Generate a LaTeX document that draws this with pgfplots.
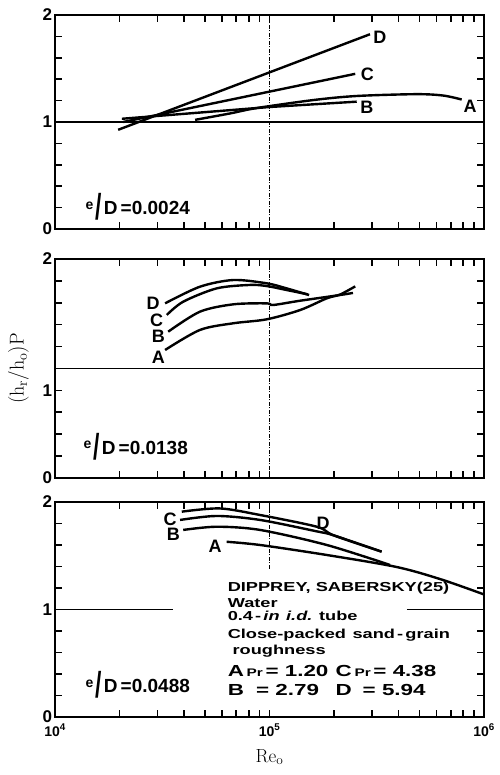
\documentclass[border=0pt]{standalone}
\usepackage{fontspec}
\usepackage{graphicx}
\usepackage{pgfplots}
\pgfplotsset{compat=1.18}
\newfontfamily\hv{Liberation Sans}
\newfontfamily\hvw[FakeStretch=1.4]{Liberation Sans}

\pgfplotsset{
 mypanel/.style={
  scale only axis, width=429pt,
  xmin=1e4, xmax=1e6, ymin=0, ymax=2,
  line width=1.4pt,
  tick style={black, line width=1.6pt},
  major tick length=0.25cm, minor tick length=0.25cm,
  xtick={1e4,1e5,1e6},
  minor xtick={2e4,3e4,4e4,5e4,6e4,7e4,8e4,9e4,2e5,3e5,4e5,5e5,6e5,7e5,8e5,9e5},
  ytick={0,0.2,0.4,0.6,0.8,1,1.2,1.4,1.6,1.8,2},
  yticklabels={0,{},{},{},{},1,{},{},{},{},2},
  yticklabel style={font=\hv\bfseries\fontsize{17}{17}\selectfont, xshift=1pt},
  xticklabel style={font=\hv\bfseries\fontsize{14}{14}\selectfont, yshift=-3pt},
  xticklabels={{},{},{}},
 },
 curve/.style={line width=2.4pt, black},
 sm/.style={line width=2.4pt, black, smooth, tension=0.5},
 vline/.style={line width=0.8pt, black, dash pattern=on 4pt off 1.5pt on 1pt off 1.5pt},
 hline/.style={line width=1.8pt, black},
}
\tikzset{
 lab/.style={font=\hv\bfseries\fontsize{18}{18}\selectfont, inner sep=0pt},
 ed/.style={font=\hv\bfseries\fontsize{19}{19}\selectfont, anchor=base west, inner sep=0pt},
 txt/.style={font=\hvw\bfseries\fontsize{13}{13}\selectfont, anchor=base west, inner sep=0pt},
 txtb/.style={font=\hvw\bfseries\fontsize{16}{16}\selectfont, anchor=base west, inner sep=0pt},
}
\newcommand{\eD}{\raisebox{0.5ex}{\fontsize{14}{14}\selectfont e}\hspace{2pt}\raisebox{-0.5ex}{\scalebox{1.2}[1.9]{/}}\hspace{2pt}D\,=0.}
\newcommand{\pr}{{\fontsize{11}{11}\selectfont Pr}}

\begin{document}
\begin{tikzpicture}
\path[use as bounding box] (0,0) rectangle (499pt,775pt);

% ---------------- panel 1: e/D = 0.0024
\begin{semilogxaxis}[mypanel, at={(55pt,546pt)}, anchor=south west, height=214pt]
\addplot[hline] coordinates {(1e4,1) (1e6,1)};
\addplot[vline] coordinates {(1e5,0) (1e5,2)};
\addplot[curve] coordinates {(1.97e4,0.927) (2.94e5,1.82)};
\addplot[curve] coordinates {(2.08e4,1.0) (2.51e5,1.45)};
\addplot[curve] coordinates {(2.05e4,1.03) (1e5,1.14) (2.55e5,1.19)};
\addplot[sm] coordinates {(4.5e4,1.02) (6.55e4,1.08) (8.7e4,1.13) (1.6e5,1.205) (2.55e5,1.243) (4.85e5,1.26) (6.46e5,1.247) (7.87e5,1.21)};
\node[lab] at (axis cs:3.27e5,1.79) {D};
\node[lab] at (axis cs:2.86e5,1.449) {C};
\node[lab] at (axis cs:2.84e5,1.137) {B};
\node[lab] at (axis cs:8.61e5,1.15) {A};
\node[ed] at (axis cs:1.38e4,0.131) {\eD0024};
\end{semilogxaxis}

% ---------------- panel 2: e/D = 0.0138
\begin{semilogxaxis}[mypanel, at={(55pt,297pt)}, anchor=south west, height=219pt,
  yticklabels={0,{},{},{},1,{},{},{},{},{},2},
  ylabel={$(\mathrm{h_r/h_o})\mathrm{P}$},
  ylabel style={at={(axis description cs:-0.085,0.5)}, anchor=center, font=\fontsize{20}{20}\selectfont}]
\addplot[hline] coordinates {(1e4,1) (1e6,1)};
\addplot[vline] coordinates {(1e5,0) (1e5,2)};
\addplot[sm] coordinates {(3.26e4,1.595) (4.74e4,1.747) (6.78e4,1.808) (9.7e4,1.778) (1.2e5,1.732) (1.53e5,1.671)};
\addplot[sm] coordinates {(3.32e4,1.489) (3.96e4,1.61) (5.68e4,1.732) (8.11e4,1.763) (9.7e4,1.753) (1.2e5,1.717) (1.51e5,1.677)};
\addplot[sm] coordinates {(3.37e4,1.336) (4.74e4,1.519) (6.78e4,1.586) (9.7e4,1.595) (1.04e5,1.58) (1.39e5,1.619) (2.13e5,1.671) (2.45e5,1.69)};
\addplot[sm] coordinates {(3.26e4,1.169) (4.74e4,1.352) (6.78e4,1.413) (9.7e4,1.449) (1.39e5,1.534) (1.85e5,1.641) (2.13e5,1.675) (2.51e5,1.75)};
\node[lab] at (axis cs:2.87e4,1.595) {D};
\node[lab] at (axis cs:2.98e4,1.443) {C};
\node[lab] at (axis cs:3.03e4,1.29) {B};
\node[lab] at (axis cs:3.03e4,1.102) {A};
\node[ed] at (axis cs:1.35e4,0.219) {\eD0138};
\end{semilogxaxis}

% ---------------- panel 3: e/D = 0.0488
\begin{semilogxaxis}[mypanel, at={(55pt,58pt)}, anchor=south west, height=215pt,
  xticklabels={10\textsuperscript{4},10\textsuperscript{5},10\textsuperscript{6}},
  xlabel={$\mathrm{Re_o}$},
  xlabel style={at={(axis description cs:0.5,-0.186)}, anchor=center, font=\fontsize{19}{19}\selectfont}]
\addplot[hline] coordinates {(1e4,1) (3.54e4,1)};
\addplot[hline] coordinates {(4.37e5,1) (1e6,1)};
\addplot[vline] coordinates {(1e5,1.38) (1e5,2)};
\addplot[sm] coordinates {(3.9e4,1.91) (5.87e4,1.94) (9.04e4,1.879) (1.66e5,1.77) (1.99e5,1.69) (3.33e5,1.538)};
\addplot[sm] coordinates {(3.83e4,1.833) (5.68e4,1.87) (9.04e4,1.833) (1.66e5,1.727) (1.99e5,1.69) (3.33e5,1.538)};
\addplot[sm] coordinates {(3.96e4,1.74) (5.68e4,1.77) (9.04e4,1.74) (1.85e5,1.6) (3.65e5,1.414)};
\addplot[sm] coordinates {(6.31e4,1.63) (9.04e4,1.6) (1.85e5,1.507) (3.92e5,1.395) (6.31e5,1.28) (1e6,1.14)};
\node[lab] at (axis cs:3.44e4,1.836) {C};
\node[lab] at (axis cs:3.56e4,1.699) {B};
\node[lab] at (axis cs:5.57e4,1.584) {A};
\node[lab] at (axis cs:1.78e5,1.80) {D};
\node[ed] at (axis cs:1.38e4,0.226) {\eD0488};
\node[txt] at (axis cs:6.34e4,1.166) {DIPPREY, SABERSKY(25)};
\node[txt] at (axis cs:6.34e4,1.014) {Water};
\node[txt] at (axis cs:6.34e4,0.902) {0.4\,-\,\textit{in}\enspace\textit{i.d.} tube};
\node[txt] at (axis cs:6.34e4,0.726) {Close-packed\enspace sand\,-\,grain};
\node[txt] at (axis cs:6.68e4,0.586) {roughness};
\node[txtb] at (axis cs:6.34e4,0.375) {A\,\pr\,= 1.20};
\node[txtb] at (axis cs:2.02e5,0.375) {C\,\pr\,= 4.38};
\node[txtb] at (axis cs:6.34e4,0.198) {B};
\node[txtb] at (axis cs:8.6e4,0.198) {= 2.79};
\node[txtb] at (axis cs:2.02e5,0.198) {D};
\node[txtb] at (axis cs:2.7e5,0.198) {= 5.94};
\end{semilogxaxis}
\end{tikzpicture}
\end{document}
